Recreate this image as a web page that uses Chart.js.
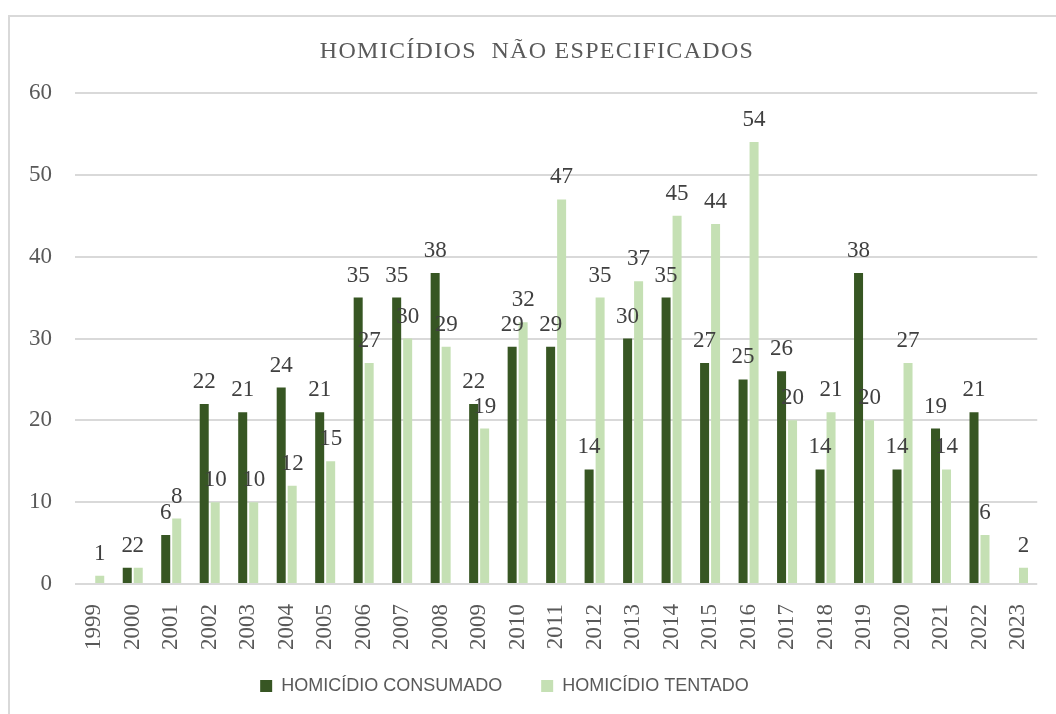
<!DOCTYPE html>
<html>
<head>
<meta charset="utf-8">
<script src="https://cdn.jsdelivr.net/npm/chart.js@4/dist/chart.umd.min.js"></script>
<style>
 html, body { margin: 0; padding: 0; background: #fff; overflow: hidden; width: 1056px; height: 714px; }
 #frame { position: absolute; left: 8px; top: 15px; width: 1100px; height: 800px; border: 2px solid #d9d9d9; }
 #myChart { position: absolute; left: -29px; top: 0; }
</style>
</head>
<body>
<div id="frame"></div>
<canvas id="myChart" width="1087" height="714"></canvas>
<script>
// dados
var TITLE = 'HOMICÍDIOS  NÃO ESPECIFICADOS';
var years = ['1999','2000','2001','2002','2003','2004','2005','2006','2007','2008','2009','2010','2011',
             '2012','2013','2014','2015','2016','2017','2018','2019','2020','2021','2022','2023'];
var consumado = [0, 2, 6, 22, 21, 24, 21, 35, 35, 38, 22, 29, 29, 14, 30, 35, 27, 25, 26, 14, 38, 14, 19, 21, 0];
var tentado = [1, 2, 8, 10, 10, 12, 15, 27, 30, 29, 19, 32, 47, 35, 37, 45, 44, 54, 20, 21, 20, 27, 14, 6, 2];
var yTicks = [0, 10, 20, 30, 40, 50, 60];

var CANVAS_LEFT = -29;

// rótulos de valor + título
var labelsPlugin = {
  id: 'valueLabels',
  afterDatasetsDraw: function (chart) {
    var ctx = chart.ctx;
    ctx.save();
    ctx.font = '23px "Liberation Serif"';
    ctx.fillStyle = '#404040';
    ctx.textAlign = 'center';
    ctx.textBaseline = 'alphabetic';
    chart.data.datasets.forEach(function (ds, i) {
      var meta = chart.getDatasetMeta(i);
      meta.data.forEach(function (bar, j) {
        var v = ds.data[j];
        if (!v) return;
        ctx.fillText(String(v), bar.x, bar.y - 16);
      });
    });
    ctx.font = '24px "Liberation Serif"';
    ctx.letterSpacing = '1.3px';
    ctx.fillStyle = '#595959';
    ctx.fillText(TITLE, 537 - CANVAS_LEFT, 58);
    ctx.restore();
  }
};

var ctx = document.getElementById('myChart').getContext('2d');
window.chart = new Chart(ctx, {
  type: 'bar',
  data: {
    labels: years,
    datasets: [
      {
        label: 'HOMICÍDIO CONSUMADO',
        data: consumado,
        backgroundColor: '#375623'
      }, {
        label: 'HOMICÍDIO TENTADO',
        data: tentado,
        backgroundColor: '#c5e0b4'
      }
    ]
  },
  options: {
    responsive: false,
    animation: false,
    categoryPercentage: 0.571,
    barPercentage: 0.82,
    layout: { padding: { top: 93, right: 20, bottom: 9, left: 0 } },
    plugins: {
      title: { display: false },
      tooltip: { enabled: false },
      legend: {
        position: 'bottom',
        labels: {
          boxWidth: 12,
          boxHeight: 12,
          padding: 39,
          color: '#595959',
          font: { family: '"Liberation Sans"', size: 18 }
        }
      }
    },
    scales: {
      x: {
        grid: { display: false },
        border: { display: false },
        afterFit: function (scale) {
          scale.height = 54;
          // os anos passam da altura do eixo, não cortar
          scale._computeLabelArea = function () { return undefined; };
        },
        ticks: {
          color: '#595959',
          font: { family: '"Liberation Serif"', size: 23 },
          minRotation: 90,
          maxRotation: 90,
          padding: 12,
          autoSkip: false
        }
      },
      y: {
        min: 0,
        max: 60,
        afterFit: function (scale) { scale.width = 104; },
        afterBuildTicks: function (scale) {
          scale.ticks = yTicks.map(function (v) { return { value: v }; });
        },
        grid: { color: '#d9d9d9', lineWidth: 2, drawTicks: false },
        border: { display: false },
        ticks: {
          color: '#595959',
          font: { family: '"Liberation Serif"', size: 23 },
          padding: 23
        }
      }
    }
  },
  plugins: [labelsPlugin]
});
</script>
</body>
</html>
